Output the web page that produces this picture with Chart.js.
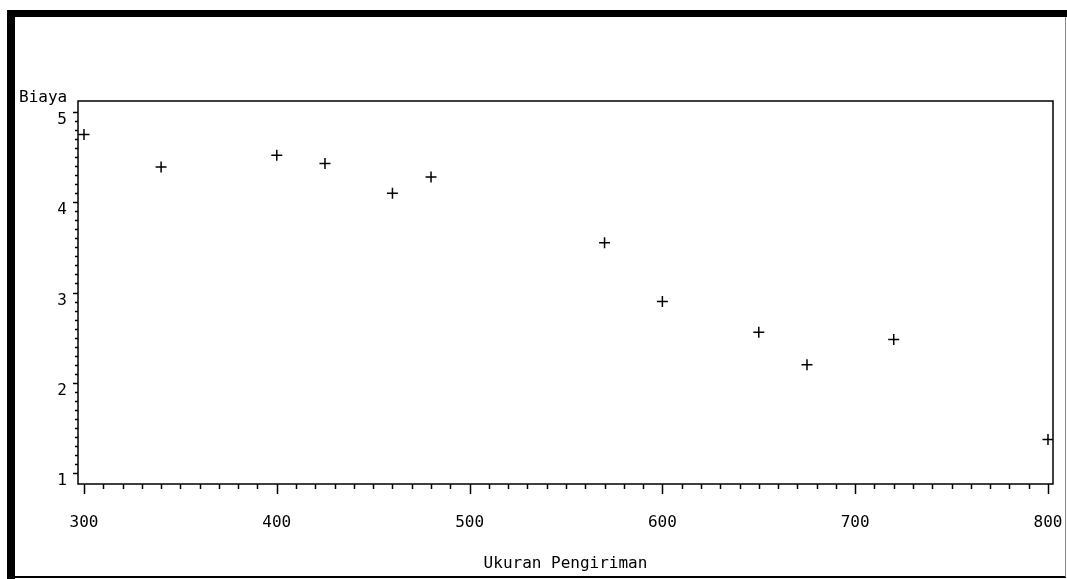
<!DOCTYPE html>
<html>
<head>
<meta charset="utf-8">
<script src="https://cdn.jsdelivr.net/npm/chart.js@4/dist/chart.umd.min.js"></script>
<style>
html,body{margin:0;padding:0;background:#fff;}
canvas{display:block;}
</style>
</head>
<body>
<canvas id="c" width="1067" height="579"></canvas>
<script>
// Data
const xValues = [300, 340, 400, 425, 460, 480, 570, 600, 650, 675, 720, 800];
const yValues = [4.75, 4.39, 4.52, 4.43, 4.10, 4.28, 3.55, 2.90, 2.56, 2.20, 2.48, 1.37];
const xTicks = [300, 400, 500, 600, 700, 800];
const yTicks = [1, 2, 3, 4, 5];
const xTitle = 'Ukuran Pengiriman';
const yTitle = 'Biaya';

const FONT = { family: '"DejaVu Sans Mono", monospace', size: 16 };

const xMinor = [];
for (let v = 300; v <= 800; v += 10) xMinor.push(v);
const yMinor = [];
for (let i = 10; i <= 50; i++) yMinor.push(i / 10);

const decor = {
  id: 'decor',
  afterDraw(chart) {
    const ctx = chart.ctx;
    const a = chart.chartArea;
    const xs = chart.scales.x, ys = chart.scales.y;
    ctx.save();
    // page frame
    ctx.fillStyle = '#000';
    ctx.fillRect(7, 10, 8, 569);
    ctx.fillRect(7, 10, 1060, 7);
    ctx.fillRect(7, 576, 1059, 2);
    ctx.strokeStyle = '#888';
    ctx.lineWidth = 1;
    ctx.beginPath();
    ctx.moveTo(1065.5, 17); ctx.lineTo(1065.5, 577);
    ctx.stroke();
    // plot frame
    ctx.strokeStyle = '#000';
    ctx.lineWidth = 1.5;
    ctx.strokeRect(a.left, a.top, a.right - a.left, a.bottom - a.top);
    // x ticks
    ctx.lineWidth = 1.5;
    ctx.beginPath();
    xMinor.forEach(v => {
      const px = Math.round(xs.getPixelForValue(v)) + 0.5;
      const len = xTicks.includes(v) ? 10 : 5;
      ctx.moveTo(px, a.bottom); ctx.lineTo(px, a.bottom + len);
    });
    // y ticks
    yMinor.forEach(v => {
      const py = Math.round(ys.getPixelForValue(v)) + 0.5;
      const len = yTicks.includes(v) ? 5 : 3;
      ctx.moveTo(a.left, py); ctx.lineTo(a.left - len, py);
    });
    ctx.stroke();
    // y title
    ctx.fillStyle = '#000';
    ctx.font = FONT.size + 'px ' + FONT.family;
    ctx.textAlign = 'left';
    ctx.textBaseline = 'alphabetic';
    ctx.fillText(yTitle, 19, 102);
    ctx.restore();
  }
};

new Chart(document.getElementById('c'), {
  type: 'scatter',
  data: {
    datasets: [{
      data: xValues.map((x, i) => ({ x: x, y: yValues[i] })),
      pointStyle: 'cross',
      radius: 5.5,
      hoverRadius: 5.5,
      borderColor: '#000',
      backgroundColor: '#000',
      borderWidth: 1.5
    }]
  },
  options: {
    responsive: false,
    animation: false,
    events: [],
    layout: { padding: { left: 0, top: 101, right: 14, bottom: 0 } },
    plugins: { legend: { display: false }, tooltip: { enabled: false } },
    scales: {
      x: {
        type: 'linear',
        min: 296.9,
        max: 802.6,
        afterBuildTicks: s => { s.ticks = xTicks.map(v => ({ value: v })); },
        afterFit: s => { s.height = 95; s.paddingLeft = 0; s.paddingRight = 0; },
        grid: { display: false, drawTicks: false },
        border: { display: false },
        ticks: { font: FONT, color: '#000', padding: 29, maxRotation: 0, autoSkip: false },
        title: { display: true, text: xTitle, font: FONT, color: '#000', padding: { top: 0, bottom: 6 } }
      },
      y: {
        type: 'linear',
        min: 0.878,
        max: 5.122,
        afterBuildTicks: s => { s.ticks = yTicks.map(v => ({ value: v })); },
        afterFit: s => { s.width = 78; s.paddingTop = 0; s.paddingBottom = 0; },
        grid: { display: false, drawTicks: false },
        border: { display: false },
        ticks: { font: FONT, color: '#000', padding: 11, labelOffset: 8, autoSkip: false }
      }
    }
  },
  plugins: [decor]
});
</script>
</body>
</html>
